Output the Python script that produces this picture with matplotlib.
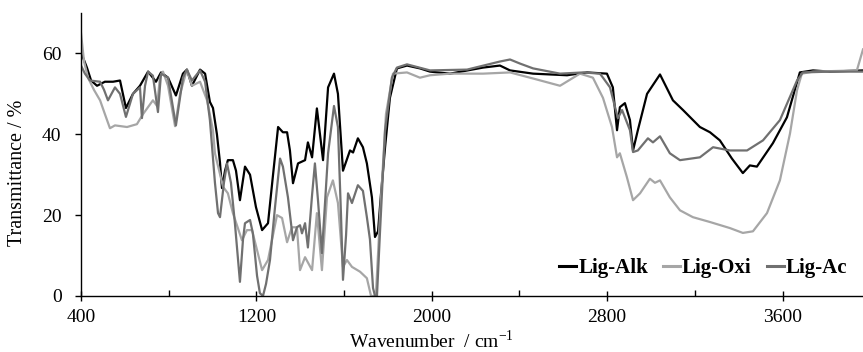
import matplotlib
matplotlib.use("Agg")
import matplotlib.pyplot as plt
from matplotlib.ticker import FixedLocator

plt.rcParams['font.family'] = ['Liberation Serif', 'DejaVu Serif']
plt.rcParams['mathtext.fontset'] = 'custom'
plt.rcParams['mathtext.rm'] = 'Liberation Serif'

# ---- data (wavenumber / cm-1, transmittance / %) ----
alk_wn = [400, 409, 427, 446, 473, 509, 546, 578, 605, 637, 669, 706, 742, 765, 797, 833, 865, 883, 906, 943,
          966, 988, 1002, 1020, 1034, 1043, 1057, 1070, 1093, 1107, 1125, 1148, 1171, 1198, 1226, 1253, 1276, 1299,
          1321, 1340, 1353, 1367, 1390, 1422, 1435, 1454, 1476, 1490, 1504, 1527, 1554, 1572, 1595, 1627, 1641,
          1663, 1686, 1704, 1727, 1741, 1755, 1768, 1787, 1809, 1841, 1887, 1946, 1992, 2083, 2234, 2311, 2357,
          2462, 2617, 2708, 2799, 2826, 2845, 2858, 2881, 2904, 2918, 2940, 2982, 3041, 3100, 3146, 3223, 3269,
          3314, 3369, 3419, 3451, 3483, 3556, 3620, 3679, 3739, 3816, 3967]
alk_t = [60, 59, 56.5, 53.3, 52, 53, 53, 53.3, 46.5, 50, 52, 55.5, 53, 55.3, 54, 49.6, 55, 56, 52, 56,
         55, 48, 46.5, 40, 33, 26.7, 31, 33.6, 33.6, 31, 23.7, 32, 30, 22, 16.3, 18, 30, 41.8,
         40.5, 40.5, 36, 27.9, 32.8, 33.6, 38, 34.3, 46.4, 40, 33.6, 51.6, 55, 50, 31, 36, 35.5,
         39, 36.8, 32.8, 24.4, 14.6, 16, 25, 36.8, 49, 56.3, 57, 56.3, 55.5, 55, 56.5, 57, 55.8,
         55, 54.6, 55.3, 55, 51.6, 41, 46.7, 47.7, 43.5, 36, 41, 50, 54.8, 48.4, 46, 41.8, 40.5,
         38.5, 34, 30.4, 32.3, 32, 37.8, 44.2, 55.3, 55.8, 55.5, 55.8]

oxi_wn = [400, 414, 432, 459, 487, 509, 532, 555, 610, 655, 683, 728, 747, 760, 774, 797, 829, 852, 883, 906,
          943, 975, 1002, 1011, 1048, 1070, 1093, 1134, 1157, 1180, 1226, 1253, 1294, 1317, 1340, 1362, 1385,
          1399, 1422, 1454, 1476, 1499, 1522, 1549, 1572, 1595, 1613, 1636, 1673, 1704, 1723, 1745, 1764, 1791,
          1823, 1887, 1946, 1992, 2083, 2234, 2357, 2462, 2585, 2676, 2735, 2781, 2822, 2845, 2858, 2890, 2918,
          2950, 2995, 3018, 3041, 3086, 3132, 3191, 3269, 3360, 3419, 3465, 3529, 3588, 3634, 3666, 3688, 3739,
          3939, 3967]
oxi_t = [65, 58, 54, 51, 48.4, 45, 41.5, 42.2, 41.8, 42.5, 45, 48.4, 47, 54, 55.5, 52, 42, 50, 56, 52,
         53, 48.4, 41, 35.3, 27, 25.4, 20.5, 13.8, 16.3, 16.3, 6.4, 8.9, 20, 19.3, 13.3, 17, 17,
         6.4, 9.6, 6.4, 20.5, 6.4, 24.4, 28.6, 23, 7.2, 8.9, 7.2, 6, 4.4, 0, 0, 20, 45,
         55, 55.3, 54, 54.6, 55, 55, 55.3, 53.8, 52, 55, 54, 49, 41.8, 34.3, 35.3, 29.4, 23.7,
         25.4, 29, 28, 28.6, 24.4, 21.2, 19.5, 18.3, 16.8, 15.6, 16, 20.5, 28.6, 40.2, 50.9, 55, 55.5,
         55.8, 61]

ac_wn = [400, 418, 441, 487, 505, 523, 555, 578, 605, 637, 669, 678, 692, 706, 728, 751, 765, 797, 833, 865,
         883, 906, 943, 966, 988, 1011, 1025, 1034, 1052, 1066, 1084, 1102, 1125, 1139, 1148, 1171, 1184, 1203,
         1216, 1230, 1244, 1262, 1285, 1308, 1321, 1344, 1367, 1385, 1399, 1408, 1422, 1435, 1454, 1467, 1481,
         1499, 1527, 1554, 1572, 1586, 1595, 1609, 1618, 1636, 1663, 1686, 1704, 1718, 1732, 1741, 1750, 1764,
         1787, 1818, 1841, 1887, 1992, 2161, 2311, 2357, 2402, 2462, 2585, 2690, 2767, 2781, 2813, 2836, 2849,
         2868, 2904, 2918, 2940, 2986, 3009, 3041, 3086, 3132, 3223, 3283, 3360, 3438, 3511, 3588, 3666, 3693,
         3816, 3967]
ac_t = [57, 55, 53.3, 53, 51, 48.4, 51.6, 50, 44.3, 50, 51.6, 44, 52, 55.5, 54.5, 45.5, 55, 54, 42.2, 54,
        56, 53.3, 55.8, 53, 43.5, 28, 20.5, 19.5, 28, 32.8, 28, 18, 3.5, 14, 18, 18.8, 15.5, 5,
        0.7, 0, 3, 8.9, 22, 34, 32, 24.4, 13.8, 17, 17.5, 15.5, 18, 12, 25, 32.8, 23.7,
        10.6, 35.3, 47, 41.8, 20, 4, 15, 25.4, 23, 27.4, 26, 19.5, 14, 2, 0, 0, 16,
        41, 54, 56.5, 57.3, 55.8, 56, 58, 58.5, 57.5, 56.3, 55, 55.3, 55, 54, 51.6, 46.7, 44,
        46, 41, 35.6, 36, 39, 38, 39.5, 35.3, 33.6, 34.3, 36.8, 36, 36, 38.5, 43.5, 53.3, 55.3,
        55.5, 55.5]

x_major = [400, 1200, 2000, 2800, 3600]
x_minor = [800, 1600, 2400, 3200]
y_major = [0, 20, 40, 60]

series = [("Lig-Alk", alk_wn, alk_t, "#000000"),
          ("Lig-Oxi", oxi_wn, oxi_t, "#a6a6a6"),
          ("Lig-Ac", ac_wn, ac_t, "#707070")]

fig = plt.figure(figsize=(8.63, 3.52), dpi=100)
ax = fig.add_axes([81/863, 1-296/352, 782/863, 283/352])

for name, wn, t, col in series:
    ax.plot(wn, t, color=col, lw=1.6, label=name, solid_joinstyle='round')

ax.set_xlim(400, 3967)
ax.set_ylim(0, 70)
ax.xaxis.set_major_locator(FixedLocator(x_major))
ax.xaxis.set_minor_locator(FixedLocator(x_minor))
ax.yaxis.set_major_locator(FixedLocator(y_major))

for s in ['top', 'right']:
    ax.spines[s].set_visible(False)
for s in ['left', 'bottom']:
    ax.spines[s].set_linewidth(1.0)

ax.tick_params(axis='x', which='major', direction='inout', length=7, width=1.0, labelsize=14, pad=6)
ax.tick_params(axis='x', which='minor', direction='in', length=4, width=1.0)
ax.tick_params(axis='y', which='major', direction='out', length=4, width=1.0, labelsize=14, pad=10)

ax.set_xlabel("Wavenumber  / cm$^{-1}$", fontsize=14)
ax.xaxis.set_label_coords(0.4476, -0.118)
ax.set_ylabel("Transmittance / %", fontsize=14.5)
ax.yaxis.set_label_coords(-0.069, 0.435)

leg = ax.legend(loc='center right', bbox_to_anchor=(0.98, 0.099), ncol=3, frameon=False,
                handlelength=0.82, handletextpad=0.1, columnspacing=0.72, borderpad=0,
                borderaxespad=0,
                prop={'family': 'Liberation Serif', 'weight': 'bold', 'size': 15})
for line in leg.get_lines():
    line.set_linewidth(2.2)

fig.savefig("out.png", dpi=100)
